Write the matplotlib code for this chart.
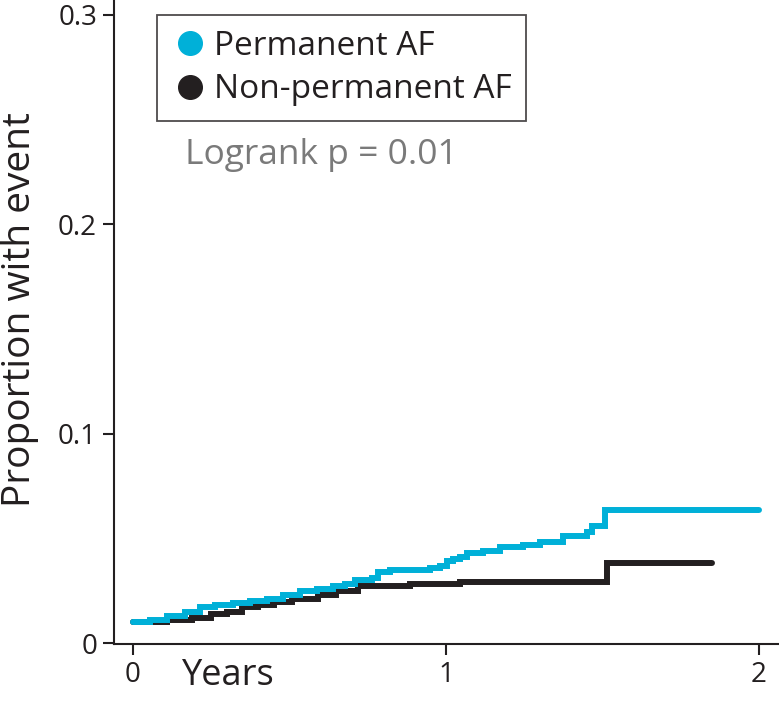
import matplotlib.pyplot as plt
from matplotlib.lines import Line2D

# Kaplan-Meier style cumulative incidence
perm_t = [0, 0.054, 0.11, 0.166, 0.214, 0.262, 0.32, 0.374, 0.428, 0.479, 0.534,
          0.588, 0.639, 0.677, 0.709, 0.764, 0.783, 0.821, 0.949, 0.981, 1.003,
          1.022, 1.045, 1.067, 1.118, 1.172, 1.246, 1.30, 1.374, 1.45, 1.466,
          1.508, 2.0]
perm_y = [0.010, 0.011, 0.013, 0.015, 0.017, 0.018, 0.019, 0.020, 0.021, 0.023,
          0.025, 0.026, 0.027, 0.028, 0.030, 0.031, 0.034, 0.035, 0.036, 0.037,
          0.039, 0.040, 0.041, 0.043, 0.044, 0.046, 0.047, 0.048, 0.051, 0.053,
          0.056, 0.0633, 0.0633]

nonperm_t = [0, 0.11, 0.19, 0.25, 0.30, 0.35, 0.40, 0.45, 0.51, 0.59, 0.65,
             0.72, 0.885, 1.045, 1.514, 1.85]
nonperm_y = [0.010, 0.011, 0.012, 0.014, 0.015, 0.017, 0.018, 0.0195, 0.021,
             0.023, 0.025, 0.027, 0.028, 0.029, 0.038, 0.038]

labels = ['Permanent AF', 'Non-permanent AF']
colors = ['#00b0d8', '#231f20']
font = ['Open Sans', 'DejaVu Sans']
plt.rcParams['font.family'] = font

fig = plt.figure(figsize=(7.79, 7.07), dpi=100)
ax = fig.add_axes([0.146, 0.089, 0.854, 0.911])

ax.step(nonperm_t, nonperm_y, where='post', color=colors[1], lw=4.3,
        solid_capstyle='round', solid_joinstyle='miter')
ax.step(perm_t, perm_y, where='post', color=colors[0], lw=4.3,
        solid_capstyle='round', solid_joinstyle='miter')

ax.set_xlim(-0.061, 2.064)
ax.set_ylim(-0.0005, 0.307)
ax.set_xticks([0, 1, 2])
ax.set_xticklabels(['0', '1', '2'])
ax.set_yticks([0, 0.1, 0.2, 0.3])
ax.set_yticklabels(['0', '0.1', '0.2', '0.3'])
ax.tick_params(direction='out', length=8, width=1.5, labelsize=20, pad=4,
               colors='#231f20')
for s in ['top', 'right']:
    ax.spines[s].set_visible(False)
for s in ['left', 'bottom']:
    ax.spines[s].set_linewidth(1.5)
    ax.spines[s].set_color('#231f20')

ax.set_ylabel('Proportion with event', fontsize=28, color='#231f20')
ax.yaxis.set_label_coords(-0.112, 0.52)
fig.text(0.233, 0.018, 'Years', fontsize=26, color='#231f20', ha='left', va='bottom')

handles = [Line2D([], [], ls='none', marker='o', ms=17, color=c) for c in colors]
leg = ax.legend(handles, labels, loc='upper left', bbox_to_anchor=(0.065, 0.977),
                fontsize=24, frameon=True, fancybox=False, handletextpad=0.15,
                handlelength=1.1, borderpad=0.45, labelspacing=0.32,
                borderaxespad=0)
leg.get_frame().set_edgecolor('#231f20')
leg.get_frame().set_linewidth(1.3)
for t in leg.get_texts():
    t.set_color('#231f20')

ax.text(0.107, 0.76, 'Logrank p = 0.01', transform=ax.transAxes, fontsize=25.5,
        color='#7a7a7a', ha='left', va='center')

fig.savefig('out.png', dpi=100)
